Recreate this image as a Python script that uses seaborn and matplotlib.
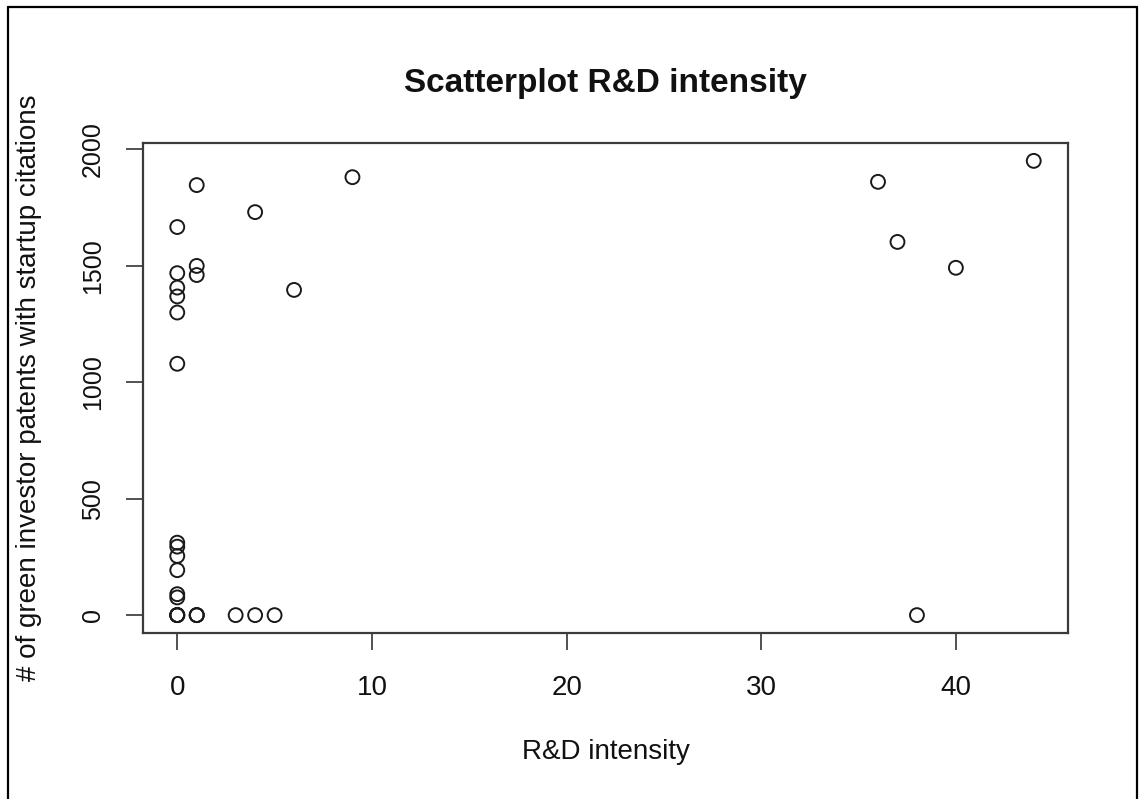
import matplotlib
matplotlib.use("Agg")
import matplotlib.pyplot as plt
from matplotlib.lines import Line2D
import seaborn as sns
import pandas as pd

# Data
rd_intensity = [1, 9, 4, 0, 1, 1, 0, 6, 0, 0, 0, 0, 0, 0, 0, 0, 0, 0,
                0, 0, 0, 0, 1, 1, 1, 3, 4, 5,
                36, 44, 37, 40, 38]
green_patents = [1846, 1880, 1730, 1666, 1499, 1460, 1468, 1396, 1406, 1368,
                 1299, 1079, 311, 294, 254, 193, 90, 76,
                 0, 0, 0, 0, 0, 0, 0, 0, 0, 0,
                 1860, 1950, 1602, 1491, 0]
x_ticks = [0, 10, 20, 30, 40]
y_ticks = [0, 500, 1000, 1500, 2000]

df = pd.DataFrame({"R&D intensity": rd_intensity,
                   "patents": green_patents})

sns.set_style("white")
plt.rcParams["font.family"] = ["Liberation Sans", "DejaVu Sans"]

W, H = 1139, 799
fig = plt.figure(figsize=(W / 100, H / 100), dpi=100)
ax = fig.add_axes([143 / W, 1 - 633.3 / H, (1068 - 143) / W, (633.3 - 142.7) / H])

sns.scatterplot(data=df, x="R&D intensity", y="patents", ax=ax,
                marker="o", s=100, linewidth=1.4, legend=False)
pts = ax.collections[0]
pts.set_facecolor("none")
pts.set_edgecolor("#1a1a1a")
pts.set_linewidth(1.4)

xmin, xmax = min(rd_intensity), max(rd_intensity)
ymin, ymax = min(green_patents), max(green_patents)
dx = 0.04 * (xmax - xmin)
dy = 0.04 * (ymax - ymin)
ax.set_xlim(xmin - dx, xmax + dx)
ax.set_ylim(ymin - dy, ymax + dy)

ax.set_xticks(x_ticks)
ax.set_yticks(y_ticks)
ax.set_xticklabels([str(v) for v in x_ticks], fontsize=20)
ax.set_yticklabels([str(v) for v in y_ticks], fontsize=18, rotation=90,
                   va="center")
ax.tick_params(axis="x", bottom=True, direction="out", length=12.2, width=1.1,
               color="#222222", pad=17.5, labelcolor="#111111")
ax.tick_params(axis="y", left=True, direction="out", length=12.2, width=1.1,
               color="#222222", pad=15, labelcolor="#111111")

for sp in ax.spines.values():
    sp.set_visible(True)
    sp.set_color("#3a3a3a")
    sp.set_linewidth(1.6)

ax.set_title("Scatterplot R&D intensity", fontsize=24, fontweight="bold",
             pad=36.5, color="#111111")

ax.set_xlabel("R&D intensity", fontsize=20, color="#111111")
ax.xaxis.set_label_coords(0.5, (633.3 - 759.3) / 490.6)
ax.xaxis.label.set_va("baseline")

ax.set_ylabel("# of green investor patents with startup citations",
              fontsize=20, color="#111111")
ax.yaxis.set_label_coords((28.8 - 143) / 925, 0.5)
ax.yaxis.label.set_va("center")

# outer frame of the screenshot
lw = 1.6
fig.add_artist(Line2D([7.5 / W, 7.5 / W], [0, 1 - 6.5 / H], transform=fig.transFigure,
                      color="black", linewidth=lw))
fig.add_artist(Line2D([7.5 / W, 1137 / W], [1 - 6.5 / H, 1 - 6.5 / H],
                      transform=fig.transFigure, color="black", linewidth=lw))
fig.add_artist(Line2D([1137 / W, 1137 / W], [0, 1 - 6.5 / H], transform=fig.transFigure,
                      color="black", linewidth=lw))

fig.savefig("out.png", dpi=100, facecolor="white")
